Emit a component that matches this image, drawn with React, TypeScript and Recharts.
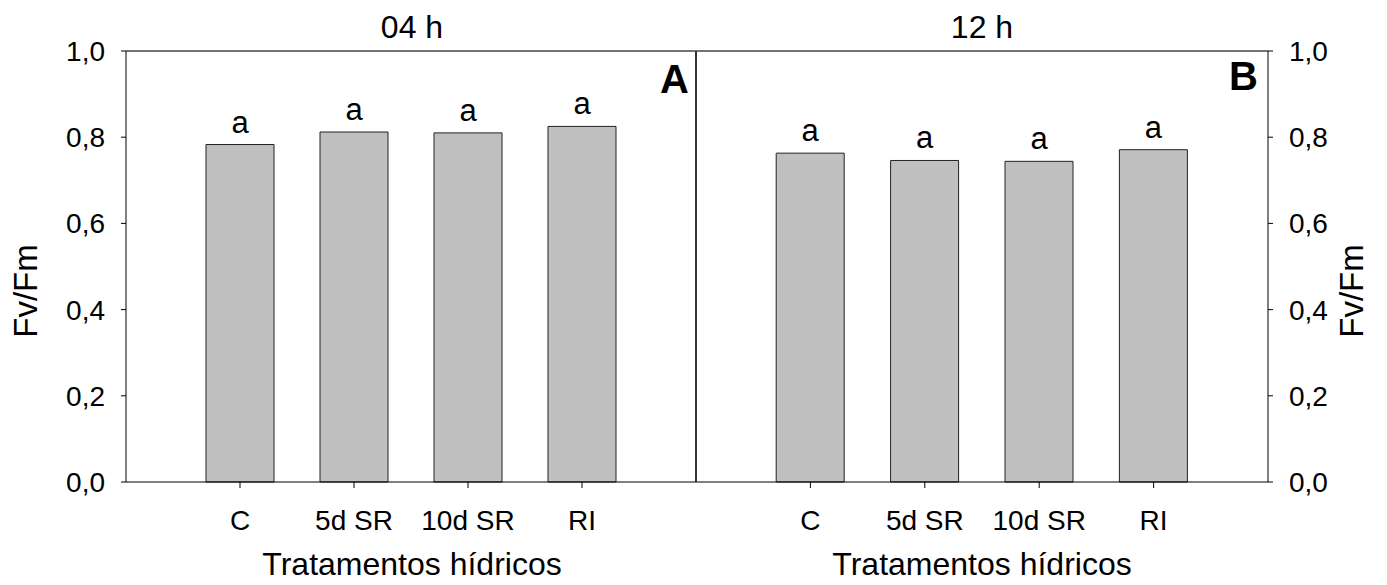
import {
    BarChart,
    Bar,
    XAxis,
    YAxis,
    ReferenceLine,
    LabelList
} from "recharts";

const categories = ["C", "5d SR", "10d SR", "RI"];
const fvfm04h = [0.783, 0.812, 0.81, 0.825];
const fvfm12h = [0.763, 0.746, 0.744, 0.771];
const letters04h = ["a", "a", "a", "a"];
const letters12h = ["a", "a", "a", "a"];
const panelTitles = ["04 h", "12 h"];
const panelTags = ["A", "B"];
const yTicks = [0, 0.2, 0.4, 0.6, 0.8, 1.0];
const xTicks = [1, 2, 3, 4];

const FONT = "'Liberation Sans', Arial, sans-serif";

// 5 slots per panel on a numeric axis, first slot left empty
const data04h = categories.map((c, i) => ({ x: i + 1, value: fvfm04h[i], letter: letters04h[i] }));
const data12h = categories.map((c, i) => ({ x: i + 1, value: fvfm12h[i], letter: letters12h[i] }));

const catLabel = (x: number) => categories[x - 1] ?? "";
const comma = (v: number) => v.toFixed(1).replace(".", ",");

const tickStyle = { fontSize: 28, fill: "#000", fontFamily: FONT };

function Panel({ data, side }: { data: typeof data04h; side: "left" | "right" }) {
    const isLeft = side === "left";
    return (
        <BarChart
            width={isLeft ? 698 : 692}
            height={585}
            data={data}
            margin={{ top: 51, right: isLeft ? 2 : 0, bottom: 0, left: 0 }}
        >
            <XAxis
                dataKey="x"
                type="number"
                domain={[0, 5]}
                ticks={xTicks}
                tickFormatter={catLabel}
                interval={0}
                height={103}
                tickSize={6}
                tickMargin={22}
                stroke="#000"
                fontSize={28}
                tick={tickStyle}
            />
            <YAxis
                orientation={side}
                domain={[0, 1]}
                ticks={yTicks}
                tickFormatter={comma}
                width={isLeft ? 126 : 120}
                tickSize={5}
                tickMargin={16}
                stroke="#000"
                fontSize={28}
                tick={tickStyle}
            />
            <ReferenceLine y={1} stroke="#444" strokeWidth={1.5} />
            {isLeft && <ReferenceLine x={5} stroke="#333" strokeWidth={2} />}
            <Bar
                dataKey="value"
                barSize={68}
                fill="#c0c0c0"
                stroke="#222"
                strokeWidth={1}
                isAnimationActive={false}
            >
                <LabelList
                    dataKey="letter"
                    position="top"
                    offset={12}
                    fontSize={31}
                    fill="#000"
                    fontFamily={FONT}
                />
            </Bar>
        </BarChart>
    );
}

export default function App() {
    return (
        <div style={{ position: "relative", width: 1387, height: 585, fontFamily: FONT }}>
            <style>{`body { margin: 0; }`}</style>
            <div style={{ position: "absolute", left: 696, top: 0 }}>
                <Panel data={data12h} side="right" />
            </div>
            <div style={{ position: "absolute", left: 0, top: 0 }}>
                <Panel data={data04h} side="left" />
            </div>
            <svg
                width={1387}
                height={585}
                style={{ position: "absolute", left: 0, top: 0, pointerEvents: "none" }}
                fontFamily={FONT}
            >
                <text x={412} y={38} textAnchor="middle" fontSize={32}>{panelTitles[0]}</text>
                <text x={982} y={38} textAnchor="middle" fontSize={32}>{panelTitles[1]}</text>
                <text x={689} y={93} textAnchor="end" fontSize={40} fontWeight="bold">{panelTags[0]}</text>
                <text x={1258} y={90} textAnchor="end" fontSize={40} fontWeight="bold">{panelTags[1]}</text>
                <text transform="translate(37,291) rotate(-90)" textAnchor="middle" fontSize={33}>Fv/Fm</text>
                <text transform="translate(1363,291) rotate(-90)" textAnchor="middle" fontSize={33}>Fv/Fm</text>
                <text x={412} y={575} textAnchor="middle" fontSize={32}>Tratamentos hídricos</text>
                <text x={982} y={575} textAnchor="middle" fontSize={32}>Tratamentos hídricos</text>
            </svg>
        </div>
    );
}
